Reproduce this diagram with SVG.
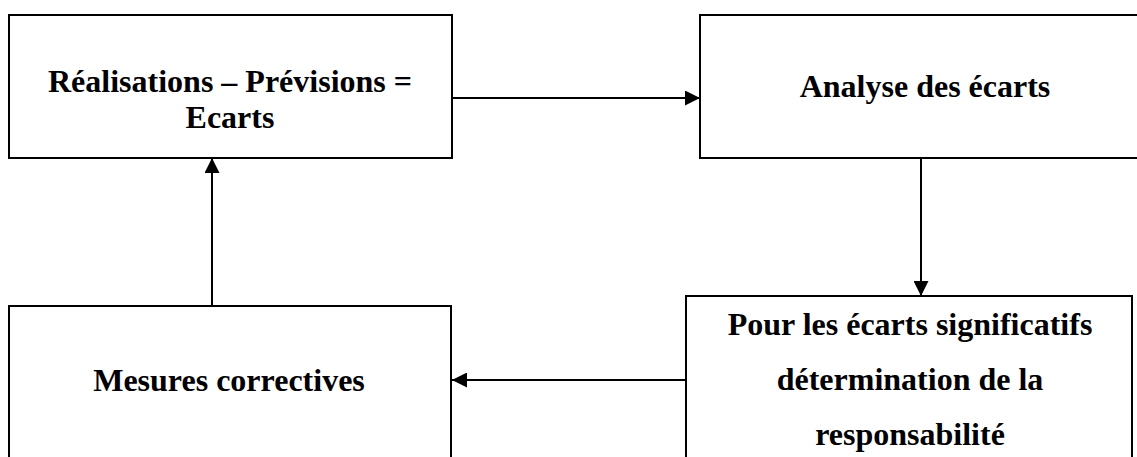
<svg xmlns="http://www.w3.org/2000/svg" width="1137" height="457" viewBox="0 0 1137 457">
<style>
.box{fill:#fff;stroke:#000;stroke-width:2}
.lbl{font-family:"Liberation Serif","Times New Roman",serif;font-weight:bold;font-size:32px;fill:#000;text-anchor:middle}
.conn{stroke:#000;stroke-width:2;fill:none}
</style>
<defs>
<marker id="ah" markerWidth="15" markerHeight="15" refX="15" refY="7.5" orient="auto" markerUnits="userSpaceOnUse">
<path d="M0,0 L15,7.5 L0,15 Z" fill="#000"/>
</marker>
</defs>
<rect width="1137" height="457" fill="#fff"/>
<g id="node-ecarts">
<rect class="box" x="9" y="15" width="443" height="143"/>
<text class="lbl" x="230" y="92">Réalisations – Prévisions =</text>
<text class="lbl" x="230" y="128">Ecarts</text>
</g>
<g id="node-analyse">
<rect class="box" x="700" y="15" width="460" height="143"/>
<text class="lbl" x="925" y="97">Analyse des écarts</text>
</g>
<g id="node-responsabilite">
<rect class="box" x="686" y="296" width="446" height="180"/>
<text class="lbl" x="910" y="335">Pour les écarts significatifs</text>
<text class="lbl" x="910" y="390">détermination de la</text>
<text class="lbl" x="910" y="445">responsabilité</text>
</g>
<g id="node-mesures">
<rect class="box" x="9" y="306" width="442" height="170"/>
<text class="lbl" x="229" y="391">Mesures correctives</text>
</g>
<g id="connectors">
<line class="conn" x1="452" y1="98" x2="700" y2="98" marker-end="url(#ah)"/>
<line class="conn" x1="921" y1="158" x2="921" y2="296" marker-end="url(#ah)"/>
<line class="conn" x1="686" y1="380" x2="452" y2="380" marker-end="url(#ah)"/>
<line class="conn" x1="212" y1="306" x2="212" y2="158" marker-end="url(#ah)"/>
</g>
</svg>
